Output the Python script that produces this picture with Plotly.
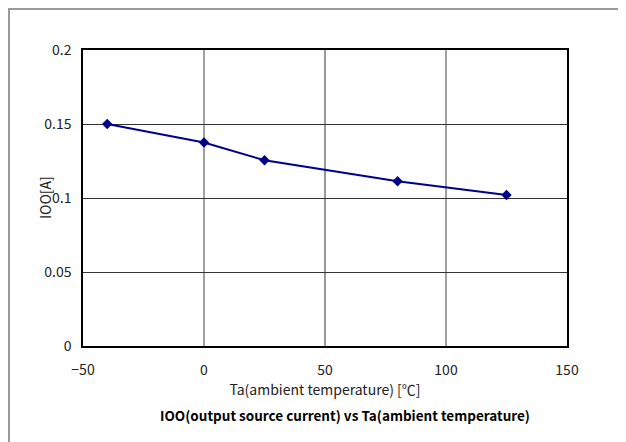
import plotly.graph_objects as go

temps = [-40, 0, 25, 80, 125]
current = [0.150, 0.1375, 0.1255, 0.1113, 0.1020]

x_ticks = [-50, 0, 50, 100, 150]
y_ticks = [0, 0.05, 0.1, 0.15, 0.2]
y_tick_text = ["0", "0.05", "0.1", "0.15", "0.2"]
gray_grid = [0, 100]
dark_grid = [50]

font_name = "Noto Sans CJK JP, DejaVu Sans, sans-serif"

fig = go.Figure()
fig.add_trace(go.Scatter(
    x=temps, y=current, mode="lines+markers",
    line=dict(color="#00008b", width=2),
    marker=dict(symbol="diamond", size=8, color="#00008b"),
    showlegend=False,
))

shapes = []
for gx in gray_grid:
    shapes.append(dict(type="line", xref="x", yref="paper", x0=gx, x1=gx, y0=0, y1=1,
                       line=dict(color="#a0a0a0", width=2), layer="below"))
for gx in dark_grid:
    shapes.append(dict(type="line", xref="x", yref="paper", x0=gx, x1=gx, y0=0, y1=1,
                       line=dict(color="#333333", width=1), layer="below"))
# outer chart border
shapes.append(dict(type="rect", xref="paper", yref="paper",
                   x0=-0.1529, x1=1.1095, y0=-0.34, y1=1.1385,
                   line=dict(color="#999999", width=2)))

# page body has an 8px margin, so the figure is 8px smaller each way
fig.update_layout(
    width=618, height=434,
    margin=dict(l=75, r=59, t=42, b=96),
    paper_bgcolor="white", plot_bgcolor="white",
    font=dict(family=font_name, size=14, color="#222222"),
    shapes=shapes,
    xaxis=dict(
        range=[-50, 150], tickvals=x_ticks, showgrid=False,
        showline=True, linecolor="black", linewidth=1.5, mirror=True,
        ticks="", zeroline=False, ticklabelstandoff=10,
        title=dict(text="Ta(ambient temperature) [\u2103]", font=dict(size=14), standoff=0),
    ),
    yaxis=dict(
        range=[0, 0.2], tickvals=y_ticks, ticktext=y_tick_text,
        showgrid=True, gridcolor="#333333", gridwidth=1,
        showline=True, linecolor="black", linewidth=1.5, mirror=True,
        ticks="", zeroline=False, ticklabelstandoff=7,
    ),
    annotations=[
        dict(text="IOO[A]", xref="paper", yref="paper", x=-0.0785, y=0.5,
             xanchor="center", yanchor="middle", textangle=-90, showarrow=False,
             font=dict(size=14)),
        dict(text="<b>IOO(output source current) vs Ta(ambient temperature)</b>",
             xref="paper", yref="paper", x=0.541, y=-0.233, xanchor="center", yanchor="middle",
             showarrow=False, font=dict(size=13.5, color="black")),
    ],
)

fig.write_html("out.html")
